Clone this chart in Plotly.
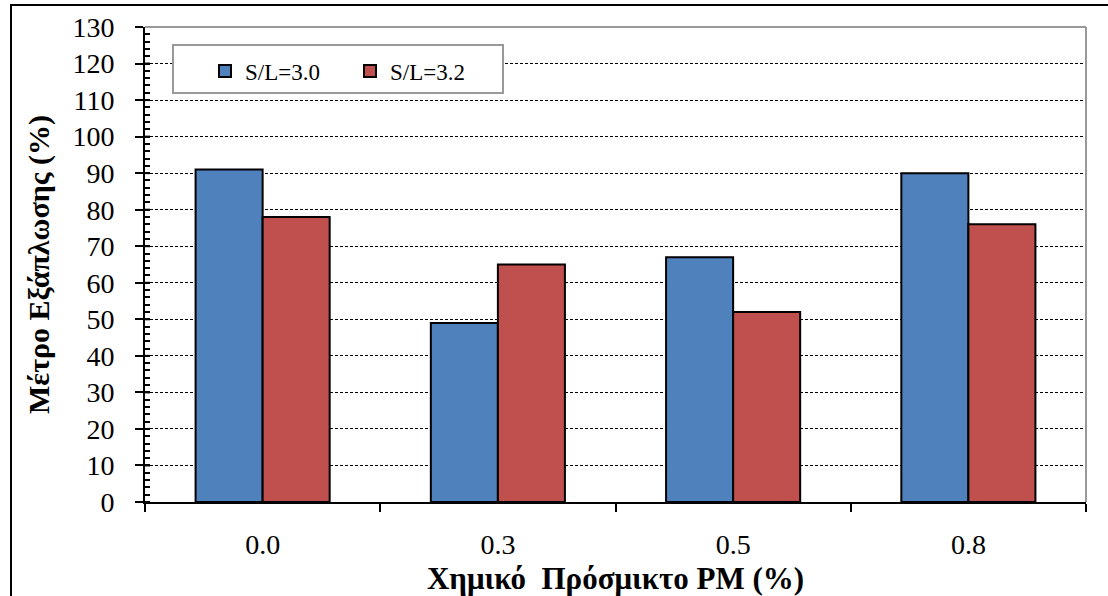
import plotly.graph_objects as go

categories = ["0.0", "0.3", "0.5", "0.8"]
series_names = ["S/L=3.0", "S/L=3.2"]
sl30 = [91, 49, 67, 90]
sl32 = [78, 65, 52, 76]
colors = ["#4F81BD", "#C0504D"]
y_major = list(range(0, 131, 10))

W, H = 1108, 596
L, R, T, B = 145, 22, 27, 94
pw, ph = W - L - R, H - T - B

FONT = "Liberation Serif"


def px_x(x):
    return (x - L) / pw


def px_y(y):
    return (T + ph - y) / ph


fig = go.Figure()
for name, vals, col in zip(series_names, [sl30, sl32], colors):
    fig.add_trace(go.Bar(
        x=categories, y=vals, name=name,
        marker=dict(color=col, line=dict(color="black", width=2)),
    ))

fig.update_layout(
    width=W, height=H,
    margin=dict(l=L, r=R, t=T, b=B, autoexpand=False),
    paper_bgcolor="white", plot_bgcolor="white",
    barmode="group", bargap=0.43, bargroupgap=0,
    font=dict(family=FONT, size=28, color="black"),
    showlegend=True,
    legend=dict(
        orientation="h", x=px_x(205), y=px_y(71),
        xanchor="left", yanchor="middle",
        borderwidth=0, bgcolor="rgba(0,0,0,0)",
        font=dict(family=FONT, size=23),
        entrywidth=100, itemwidth=30, itemsizing="constant",
    ),
    xaxis=dict(
        type="category", showline=True, linecolor="black", linewidth=2,
        ticks="outside", tickson="boundaries", ticklen=8, tickwidth=2,
        tickcolor="black", showgrid=False, automargin=False,
        tickfont=dict(family=FONT, size=28), ticklabelstandoff=16,
        title=dict(text="<b>Χημικό&nbsp; Πρόσμικτο PM (%)</b>",
                   font=dict(family=FONT, size=31), standoff=10),
    ),
    yaxis=dict(
        range=[0, 130], tickvals=y_major, showline=True, linecolor="black",
        linewidth=2, ticks="outside", ticklen=8, tickwidth=2, tickcolor="black",
        showgrid=True, gridcolor="black", gridwidth=1, griddash="3px,2px",
        zeroline=False, automargin=False,
        tickfont=dict(family=FONT, size=28), ticklabelstandoff=15,
        minor=dict(dtick=2, ticks="inside", ticklen=5, tickwidth=2,
                   tickcolor="black", showgrid=False),
        title=dict(text="<b>Μέτρο Εξάπλωσης (%)</b>",
                   font=dict(family=FONT, size=30), standoff=14),
    ),
)

# major y ticks also reach into the plot area
for v in y_major:
    fig.add_shape(type="line", xref="paper", yref="y", x0=0, x1=5 / pw,
                  y0=v, y1=v, line=dict(color="black", width=2))

# gray frame on the top and right sides of the plot area
fig.add_shape(type="line", xref="paper", yref="paper", x0=0, x1=1, y0=1, y1=1,
              line=dict(color="#999999", width=2))
fig.add_shape(type="line", xref="paper", yref="paper", x0=1, x1=1, y0=0, y1=1,
              line=dict(color="#999999", width=2))

# legend box
fig.add_shape(type="rect", xref="paper", yref="paper",
              x0=px_x(173), x1=px_x(503), y0=px_y(93), y1=px_y(45),
              line=dict(color="#999999", width=2), fillcolor="white", layer="above")

# outer chart border
fig.add_shape(type="rect", xref="paper", yref="paper",
              x0=px_x(11), x1=px_x(W + 10),
              y0=px_y(H + 10), y1=px_y(5),
              line=dict(color="black", width=2), fillcolor="rgba(0,0,0,0)")

fig.write_html("out.html")
